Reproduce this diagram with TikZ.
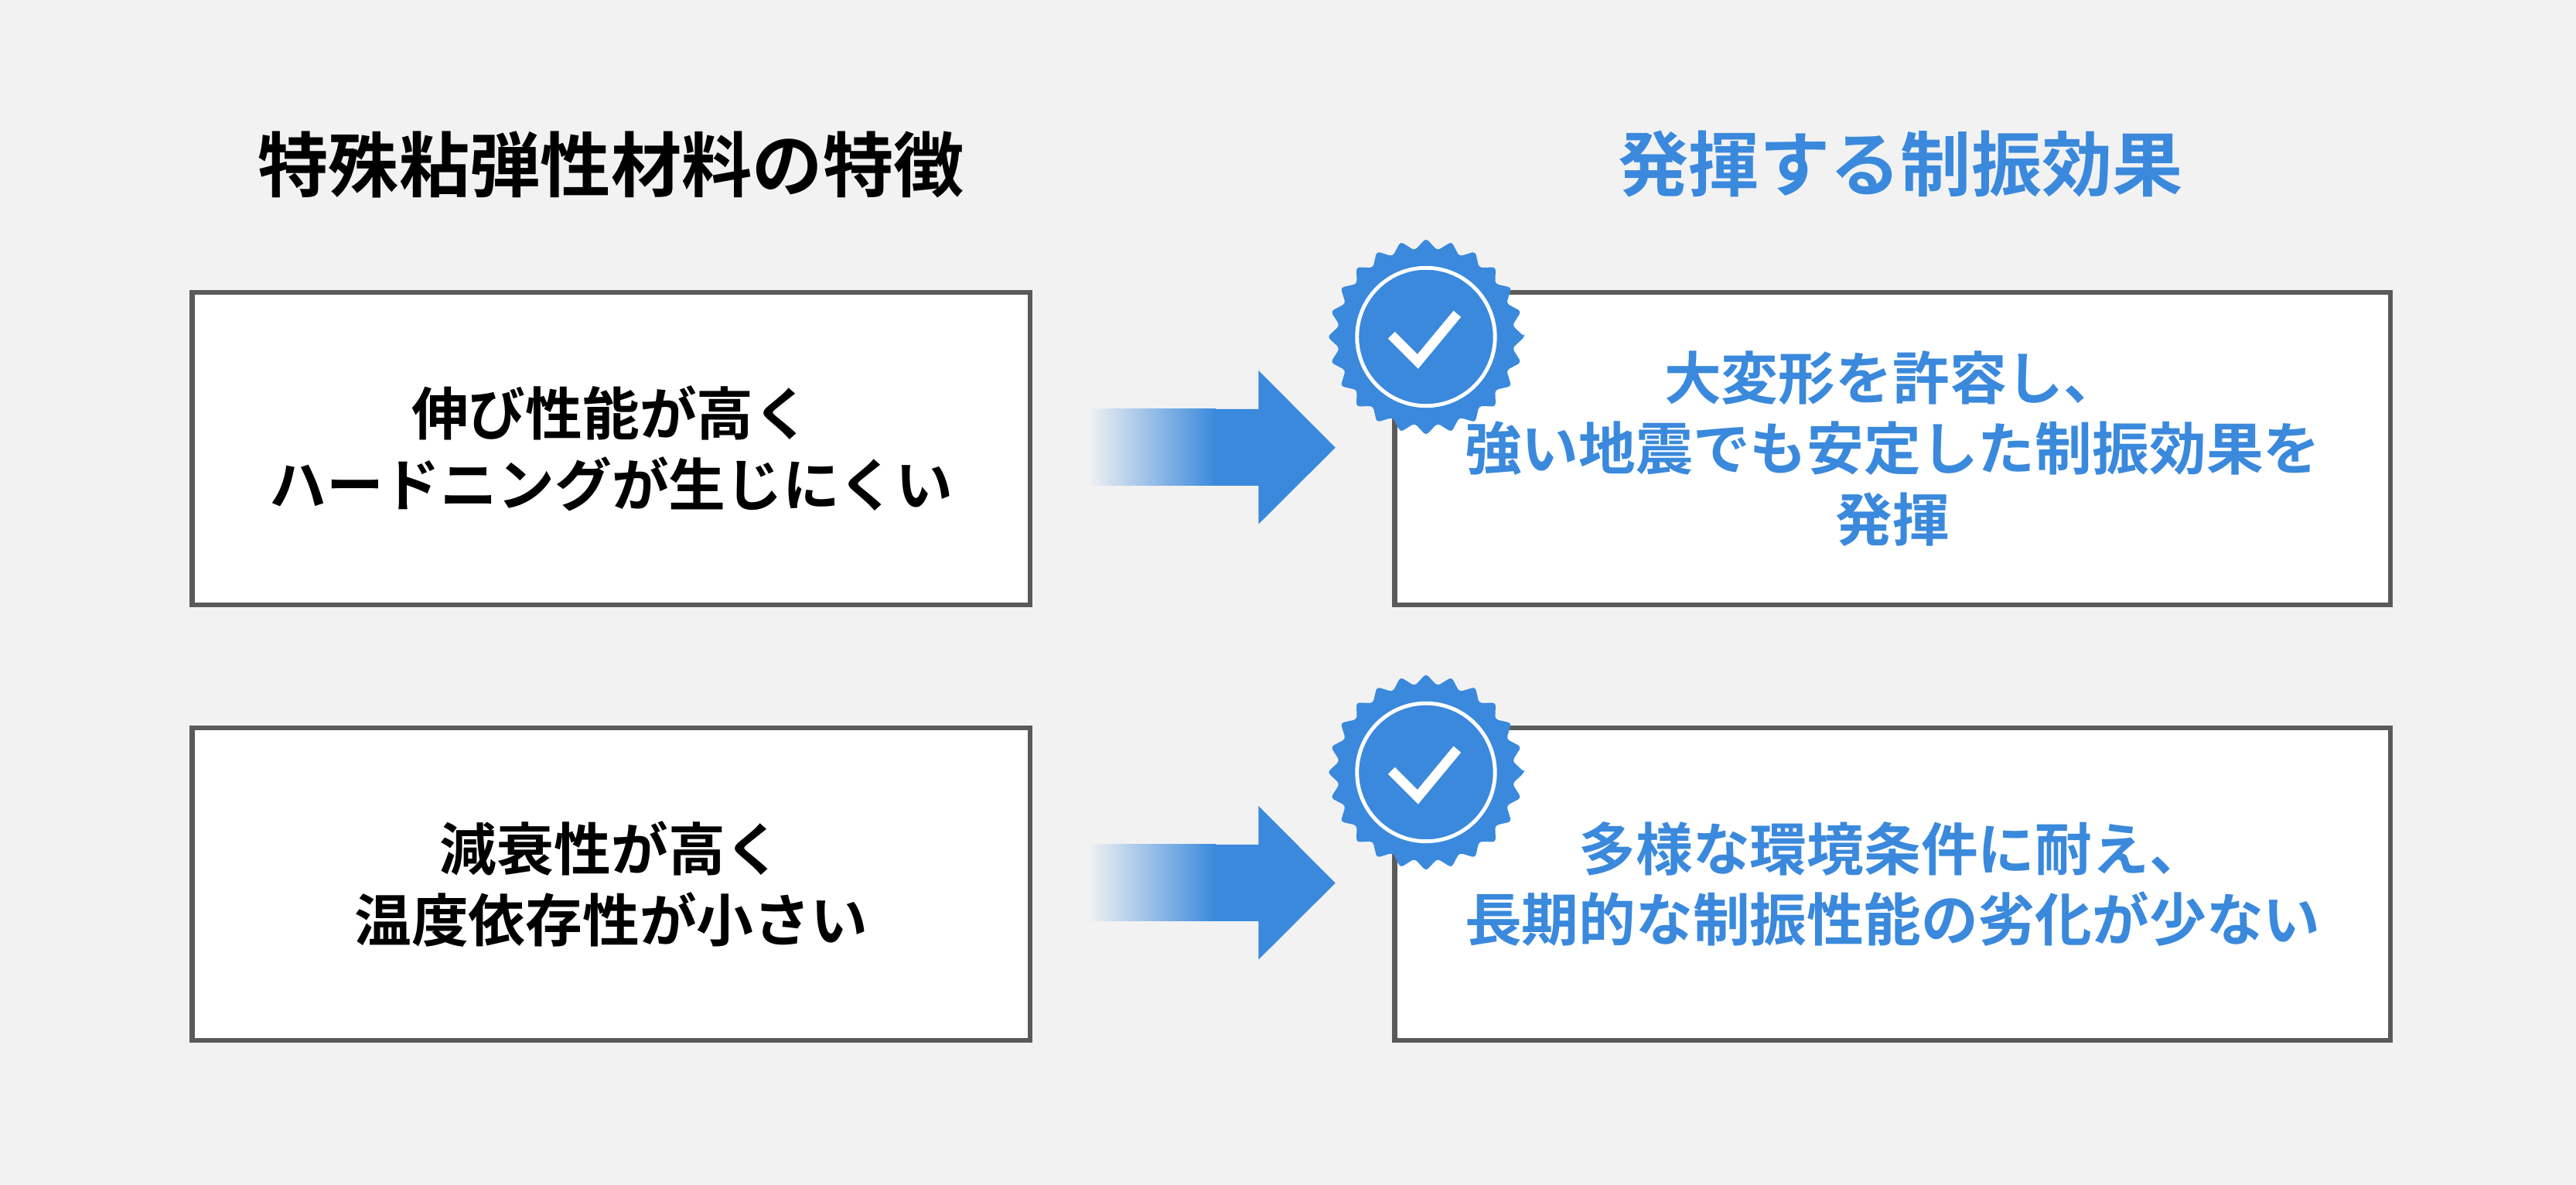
\documentclass[tikz,border=0pt]{standalone}
\usepackage{fontspec}
\setmainfont{Noto Sans CJK JP}[BoldFont={* Bold}]
\usetikzlibrary{positioning}
\definecolor{bgGray}{HTML}{F2F2F2}
\definecolor{effBlue}{HTML}{3A89DC}
\definecolor{boxGray}{HTML}{5A5A5A}
\tikzset{
  featbox/.style={draw=boxGray, line width=1.8pt, fill=white, minimum width=10.84cm, minimum height=4.04cm, align=center, font=\fontsize{21}{26}\selectfont\bfseries},
  effbox/.style={featbox, minimum width=12.88cm, text=effBlue},
  headtext/.style={font=\fontsize{26}{30}\selectfont\bfseries},
}
\begin{document}
\begin{tikzpicture}[x=0.02125cm, y=-0.02125cm]
\fill[bgGray] (0,0) rectangle (1568,721);
\useasboundingbox (0,0) rectangle (1568,721);
% headings
\node[headtext] (hfeat) at (372,100) {特殊粘弾性材料の特徴};
\node[headtext, text=effBlue] (heff) at (1157,100) {発揮する制振効果};
% rows
\foreach \row/\dy/\ftxt/\etxt in {
  1/0/{伸び性能が高く\\ハードニングが生じにくい}/{大変形を許容し、\\強い地震でも安定した制振効果を\\発揮},
  2/265/{減衰性が高く\\温度依存性が小さい}/{多様な環境条件に耐え、\\長期的な制振性能の劣化が少ない}}{
  \begin{scope}[yshift=-\dy*0.02125cm]
    \node[featbox] (feat\row) at (372,273) {\ftxt};
    \node[effbox] (eff\row) at (1152,273) {\etxt};
    \shade[left color=bgGray, right color=effBlue] (662,249) rectangle (740,295.6);
    \fill[effBlue] (739,249) -- (766,249) -- (766,225.4) -- (812.8,272.4) -- (766,319) -- (766,295.6) -- (739,295.6) -- cycle;
    \coordinate (mark\row) at (868,205);
  \end{scope}
  \begin{scope}[shift={(mark\row)}]
    \fill[effBlue, rounded corners=1.2pt] (0:60)
      \foreach \k in {0,...,23}{ -- (15*\k+7.5:53) -- (15*\k+15:60)} -- cycle;
    \draw[white, line width=1.4pt] (0,0) circle [radius=42];
    \draw[white, line width=3.6pt] (-21,-1) -- (-5,15) -- (19,-14);
  \end{scope}
}
\end{tikzpicture}
\end{document}
